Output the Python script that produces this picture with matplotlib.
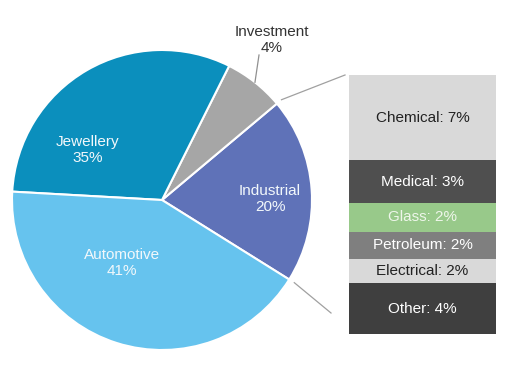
import numpy as np
import matplotlib
matplotlib.use("Agg")
import matplotlib.pyplot as plt

plt.rcParams['font.family'] = ['Liberation Sans', 'DejaVu Sans']

# main pie (drawn shares, printed labels from the chart)
pie_names = ['Industrial', 'Investment', 'Jewellery', 'Automotive']
pie_shares = [20, 6.5, 31.5, 42]
pie_labels = ['20%', '4%', '35%', '41%']
pie_colors = ['#5f72b8', '#a6a6a6', '#0b8fbd', '#66c3ee']

# breakdown of the industrial slice, top to bottom
sub_names = ['Chemical', 'Medical', 'Glass', 'Petroleum', 'Electrical', 'Other']
sub_shares = [6.6, 3.3, 2.2, 2.1, 1.9, 3.9]
sub_labels = ['7%', '3%', '2%', '2%', '2%', '4%']
sub_colors = ['#d9d9d9', '#4f4f4f', '#98c98a', '#7f7f7f', '#d9d9d9', '#3f3f3f']
sub_text = ['#222222', 'white', '#eef6ea', 'white', '#222222', 'white']

fig = plt.figure(figsize=(5.12, 3.75), dpi=100)
ax = fig.add_axes([0, 0, 1, 1])

cx, cy, r = 162, 175, 150
start = -32
wedges, _ = ax.pie(pie_shares, colors=pie_colors, startangle=start,
                   counterclock=True, center=(cx, cy), radius=r,
                   wedgeprops=dict(edgecolor='white', linewidth=1.5))
ax.set_xlim(0, 512)
ax.set_ylim(0, 375)
ax.set_aspect('equal')
ax.axis('off')

# slice labels
label_pos = {'Industrial': (270, 176), 'Jewellery': (88, 225),
             'Automotive': (122, 112)}
for name, lab in zip(pie_names, pie_labels):
    if name in label_pos:
        x, y = label_pos[name]
        ax.text(x, y, f'{name}\n{lab}', ha='center', va='center',
                color='#f2f8fb', fontsize=11, linespacing=1.2)

# investment label outside with a leader
inv_mid = np.deg2rad(start + (pie_shares[0] + pie_shares[1] / 2) * 3.6)
ax.plot([cx + r * np.cos(inv_mid), 259], [cy + r * np.sin(inv_mid), 320],
        color='#909090', lw=0.9)
ax.text(272, 335, f'{pie_names[1]}\n{pie_labels[1]}', ha='center', va='center',
        color='#333333', fontsize=11, linespacing=1.15)

# connector lines from the industrial slice to the bar
a_top = np.deg2rad(start + pie_shares[0] * 3.6)
a_bot = np.deg2rad(start)
ax.plot([cx + 156 * np.cos(a_top), 345], [cy + 156 * np.sin(a_top), 300],
        color='#a0a0a0', lw=0.9)
ax.plot([cx + 156 * np.cos(a_bot), 331], [cy + 156 * np.sin(a_bot), 62],
        color='#a0a0a0', lw=0.9)

# stacked bar
bx = fig.add_axes([349 / 512, 41 / 375, 147 / 512, 259 / 375])
bottom = sum(sub_shares)
for name, val, lab, col, tc in zip(sub_names, sub_shares, sub_labels,
                                   sub_colors, sub_text):
    bottom -= val
    bx.bar(0, val, bottom=bottom, width=1, color=col, edgecolor='none')
    bx.text(0, bottom + val / 2, f'{name}: {lab}', ha='center', va='center',
            color=tc, fontsize=11)
bx.set_xlim(-0.5, 0.5)
bx.set_ylim(0, sum(sub_shares))
bx.axis('off')

fig.savefig('out.png', dpi=100)
